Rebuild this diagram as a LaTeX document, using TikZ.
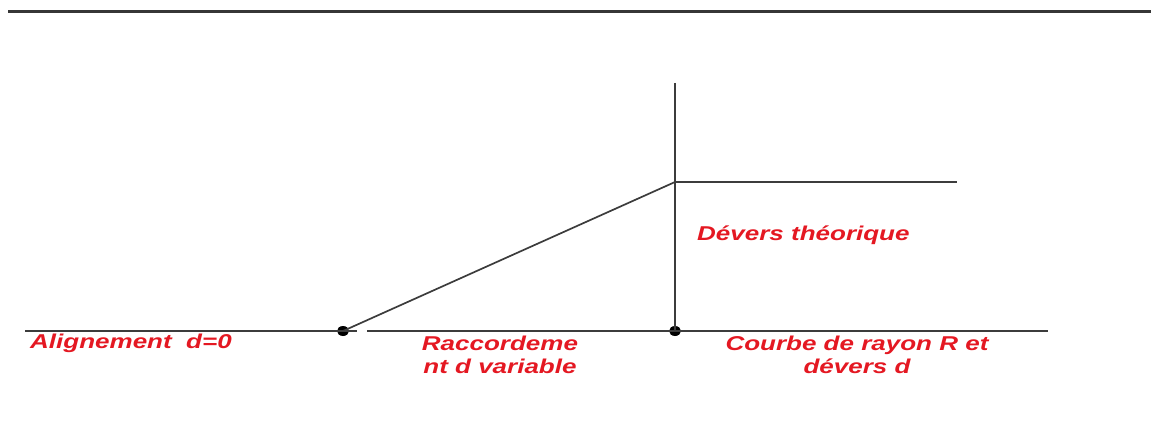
\documentclass[tikz,border=0pt]{standalone}
\usepackage{fontspec}
\setmainfont{Liberation Sans}
\usepackage{graphicx}
\usetikzlibrary{shapes.geometric}
\definecolor{lbl}{RGB}{228,24,34}
\definecolor{ln}{RGB}{60,60,60}
\newcommand\wtxt[1]{\scalebox{1.30}[1]{#1}}
\begin{document}
\begin{tikzpicture}[x=1pt,y=-1pt,
  lbl/.style={text=lbl,font=\fontsize{20}{23}\selectfont\bfseries\itshape,inner sep=0pt},
  ln/.style={draw=ln,line width=1.7pt},
  dot/.style={ellipse,fill=black,minimum width=12pt,minimum height=10pt,inner sep=0pt}]
\useasboundingbox (0,0) rectangle (1151,433);
% top rule
\coordinate (r1) at (8,12);
\coordinate (r2) at (1151,12);
\draw[draw=ln!90!black,line width=3pt] (r1) -- (r2);
% points
\node[dot] (A) at (343,331) {};
\node[dot] (B) at (675,331) {};
\coordinate (L) at (25,331);
\coordinate (G1) at (357,331);
\coordinate (G2) at (367,331);
\coordinate (R) at (1048,331);
\coordinate (T) at (675,83);
\coordinate (C) at (675,182);
\coordinate (E) at (957,182);
% lines
\draw[ln] (L) -- (A.center) -- (G1);
\draw[ln] (G2) -- (R);
\draw[ln] (T) -- (B.center);
\draw[ln] (C) -- (E);
\draw[ln] (A.center) -- (C);
% labels
\node[lbl,anchor=base west] (t1) at (30,348) {\wtxt{Alignement\ \ d=0}};
\node[lbl,anchor=base,align=center] (t2) at (500,373) {\wtxt{Raccordeme}\\\wtxt{nt d variable}};
\node[lbl,anchor=base west] (t3) at (697,240) {\wtxt{Dévers théorique}};
\node[lbl,anchor=base,align=center] (t4) at (857,373) {\wtxt{Courbe de rayon R et}\\\wtxt{dévers d}};
\end{tikzpicture}
\end{document}
